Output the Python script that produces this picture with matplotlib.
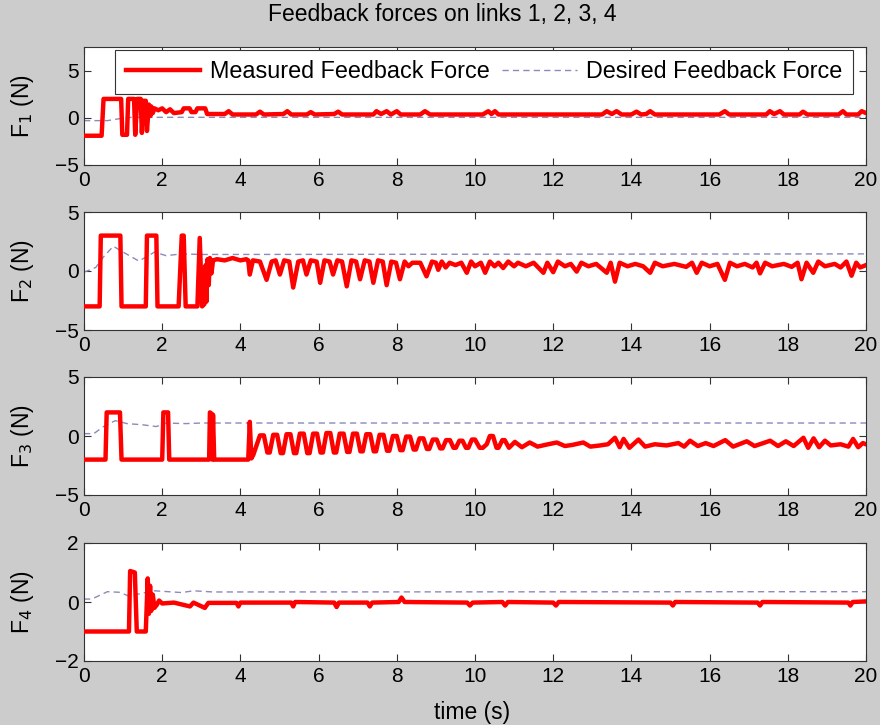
import numpy as np
import matplotlib
matplotlib.use("Agg")
import matplotlib.pyplot as plt

plt.rcParams['font.family'] = ['Liberation Sans', 'DejaVu Sans']

# measured feedback force, (time, force) breakpoints
f1_meas = [(0.0, -1.9), (0.45, -1.9), (0.5, 2.0), (0.95, 2.0), (0.98, -1.8), (1.1, -1.8), (1.13, 2.0),
           (1.28, 2.0), (1.31, -1.8), (1.36, 2.0), (1.45, 2.0), (1.48, -1.6), (1.52, 1.8), (1.58, 1.8),
           (1.61, -1.4), (1.66, 1.4), (1.7, 0.2), (1.72, 1.2), (1.76, 0.5), (1.8, 1.0), (1.9, 0.8),
           (2.0, 1.0), (2.1, 0.6), (2.2, 0.9), (2.3, 0.5), (2.5, 0.6), (2.55, 1.0), (2.7, 1.0),
           (2.75, 0.6), (2.85, 0.6), (2.9, 1.0), (3.1, 1.0), (3.15, 0.4), (3.6, 0.4), (3.7, 0.7),
           (3.8, 0.35), (4.4, 0.35), (4.5, 0.65), (4.6, 0.35), (5.1, 0.4), (5.2, 0.7), (5.3, 0.35),
           (5.7, 0.35), (5.8, 0.6), (5.9, 0.35), (6.4, 0.4), (6.5, 0.65), (6.6, 0.35), (7.4, 0.35),
           (7.48, 0.7), (7.6, 0.4), (7.74, 0.7), (7.85, 0.35), (8.0, 0.7), (8.1, 0.35), (8.6, 0.35),
           (8.72, 0.7), (8.85, 0.35), (10.2, 0.35), (10.34, 0.7), (10.42, 0.4), (10.51, 0.7),
           (10.6, 0.35), (13.25, 0.35), (13.37, 0.7), (13.5, 0.4), (13.62, 0.7), (13.75, 0.35),
           (14.0, 0.35), (14.13, 0.65), (14.25, 0.35), (14.38, 0.4), (14.48, 0.7), (14.6, 0.35),
           (16.25, 0.35), (16.39, 0.7), (16.5, 0.35), (17.45, 0.35), (17.54, 0.7), (17.65, 0.4),
           (17.8, 0.7), (17.9, 0.35), (18.3, 0.35), (18.39, 0.65), (18.5, 0.35), (19.3, 0.35),
           (19.41, 0.7), (19.5, 0.35), (19.8, 0.35), (19.89, 0.7), (20.0, 0.5)]

f2_meas = [(0.0, -3.0), (0.4, -3.0), (0.43, 3.0), (0.93, 3.0), (0.96, -3.0), (1.58, -3.0), (1.61, 3.0),
           (1.85, 3.0), (1.88, -3.0), (2.42, -3.0), (2.5, 3.0), (2.55, 3.0), (2.6, -3.0), (2.9, -3.0),
           (2.96, 2.8), (3.02, -3.0), (3.08, -2.8), (3.11, 0.5), (3.13, -2.6), (3.16, 1.0), (3.19, -1.2),
           (3.22, 1.1), (3.26, -0.2), (3.3, 0.9), (3.4, 1.0), (3.6, 0.9), (3.8, 1.1), (4.0, 0.9),
           (4.15, 1.0), (4.2, 0.9), (4.24, -0.3), (4.32, 0.9), (4.5, 0.8), (4.67, -0.75), (4.8, 0.8),
           (4.9, 0.9), (5.01, -0.3), (5.12, 0.9), (5.25, 0.8), (5.35, -1.4), (5.48, 0.8), (5.6, 0.9),
           (5.69, -0.3), (5.8, 0.9), (5.95, 0.8), (6.04, -1.0), (6.15, 0.9), (6.28, 0.8), (6.37, -0.3),
           (6.48, 0.9), (6.6, 0.8), (6.72, -1.3), (6.84, 0.9), (6.96, 0.8), (7.06, -0.7), (7.18, 0.9),
           (7.3, 0.8), (7.4, -1.0), (7.52, 0.9), (7.64, 0.8), (7.74, -1.2), (7.86, 0.8), (7.98, 0.7),
           (8.08, -0.7), (8.2, 0.8), (8.3, 0.4), (8.4, 0.7), (8.6, 0.7), (8.76, -0.45), (8.9, 0.8),
           (9.0, 0.7), (9.06, 0.1), (9.15, 0.8), (9.25, 0.3), (9.35, 0.7), (9.5, 0.5), (9.65, 0.7),
           (9.79, -0.15), (9.9, 0.8), (10.0, 0.4), (10.15, 0.7), (10.26, -0.15), (10.38, 0.8),
           (10.5, 0.4), (10.6, 0.7), (10.72, 0.25), (10.85, 0.8), (11.0, 0.4), (11.1, 0.7),
           (11.3, 0.4), (11.5, 0.7), (11.75, -0.15), (11.85, 0.7), (12.0, -0.1), (12.12, 0.8),
           (12.3, 0.4), (12.45, 0.6), (12.6, -0.05), (12.72, 0.7), (12.9, 0.4), (13.1, 0.6),
           (13.37, -0.15), (13.47, 0.7), (13.58, -0.9), (13.7, 0.7), (13.9, 0.4), (14.1, 0.6),
           (14.3, 0.4), (14.48, -0.15), (14.6, 0.7), (14.8, 0.4), (15.1, 0.6), (15.4, 0.35),
           (15.55, 0.7), (15.67, -0.15), (15.8, 0.7), (16.0, 0.4), (16.2, 0.6), (16.39, -0.75),
           (16.52, 0.7), (16.7, 0.4), (16.9, 0.6), (17.1, 0.3), (17.2, 0.7), (17.29, -0.2),
           (17.42, 0.7), (17.6, 0.4), (17.9, 0.6), (18.1, 0.35), (18.25, 0.7), (18.35, -0.7),
           (18.48, 0.7), (18.65, -0.15), (18.78, 0.8), (18.95, 0.4), (19.2, 0.6), (19.35, 0.3),
           (19.5, 0.8), (19.63, -0.4), (19.75, 0.7), (19.85, 0.3), (20.0, 0.5)]

f3_meas = [(0.0, -2.0), (0.55, -2.0), (0.58, 2.0), (0.92, 2.0), (0.96, -2.0), (2.0, -2.0), (2.03, 2.0),
           (2.15, 2.0), (2.18, -2.0), (3.2, -2.0), (3.22, 2.0), (3.26, 1.9), (3.28, -2.0), (3.3, 1.8),
           (3.33, -2.0), (4.2, -2.0), (4.24, 1.2), (4.28, -1.9), (4.33, -1.6),
           (4.5, 0.05), (4.6, 0.05), (4.69, -1.4), (4.75, -1.4), (4.84, 0.1), (4.94, 0.1),
           (5.03, -1.45), (5.09, -1.45), (5.18, 0.15), (5.28, 0.15), (5.37, -1.45), (5.43, -1.45),
           (5.52, 0.2), (5.62, 0.2), (5.71, -1.45), (5.77, -1.45), (5.86, 0.2), (5.96, 0.2),
           (6.05, -1.4), (6.11, -1.4), (6.2, 0.25), (6.3, 0.25), (6.39, -1.4), (6.45, -1.4),
           (6.54, 0.2), (6.64, 0.2), (6.73, -1.35), (6.79, -1.35), (6.88, 0.2), (6.98, 0.2),
           (7.07, -1.3), (7.13, -1.3), (7.22, 0.15), (7.32, 0.15), (7.41, -1.3), (7.47, -1.3),
           (7.56, 0.1), (7.66, 0.1), (7.75, -1.25), (7.81, -1.25), (7.9, 0.0), (8.0, 0.0),
           (8.09, -1.2), (8.15, -1.2), (8.24, -0.05), (8.34, -0.05), (8.43, -1.15), (8.49, -1.15),
           (8.58, -0.2), (8.68, -0.2), (8.77, -1.1), (8.83, -1.1), (8.92, -0.3), (9.02, -0.3),
           (9.11, -1.05), (9.17, -1.05), (9.26, -0.35), (9.36, -0.35), (9.45, -1.0), (9.51, -1.0),
           (9.6, -0.4), (9.68, -0.4), (9.77, -1.0), (9.83, -1.0), (9.92, -0.3), (10.0, -0.3),
           (10.12, -1.0), (10.2, -1.0), (10.3, -0.7), (10.38, 0.0), (10.46, 0.0), (10.55, -1.0),
           (10.6, -1.0), (10.7, -0.35), (10.76, -0.35), (10.87, -1.0), (11.02, -0.5), (11.2, -0.95),
           (11.4, -0.55), (11.6, -0.9), (11.8, -0.75), (12.09, -0.55), (12.3, -0.85), (12.5, -0.75),
           (12.77, -0.55), (12.95, -0.9), (13.2, -0.8), (13.4, -0.7), (13.58, -0.15), (13.7, -0.95),
           (13.8, -0.25), (13.95, -1.0), (14.18, -0.3), (14.35, -0.9), (14.6, -0.7), (14.9, -0.8),
           (15.2, -0.6), (15.35, -0.9), (15.5, -0.4), (15.7, -0.85), (15.9, -0.6), (16.1, -0.85),
           (16.4, -0.35), (16.6, -0.9), (16.95, -0.45), (17.15, -0.85), (17.55, -0.4), (17.75, -0.85),
           (17.95, -0.45), (18.15, -0.85), (18.4, -0.15), (18.52, -1.0), (18.66, -0.2), (18.8, -0.95),
           (18.95, -0.4), (19.1, -0.8), (19.35, -0.7), (19.55, -0.9), (19.67, -0.25), (19.8, -0.95),
           (19.92, -0.6), (20.0, -0.7)]

f4_meas = [(0.0, -1.0), (1.15, -1.0), (1.18, 1.05), (1.3, 1.0), (1.35, -1.0), (1.58, -1.0), (1.63, 0.8),
           (1.66, -0.4), (1.69, 0.55), (1.72, -0.3), (1.76, 0.25), (1.8, -0.2), (1.86, -0.1),
           (1.92, 0.05), (2.0, -0.05), (2.3, -0.02), (2.71, -0.15), (2.8, -0.02), (3.09, -0.2),
           (3.18, -0.03), (3.9, -0.03), (3.95, -0.15), (4.0, -0.02), (5.3, -0.02), (5.35, -0.15),
           (5.4, 0.0), (6.4, -0.02), (6.46, -0.17), (6.52, -0.02), (7.25, -0.02), (7.31, -0.15),
           (7.37, -0.02), (8.05, 0.0), (8.12, 0.15), (8.2, 0.0), (9.8, -0.02), (9.87, -0.12),
           (9.94, -0.02), (10.7, 0.0), (10.77, -0.12), (10.84, 0.0), (12.0, -0.02), (12.07, -0.12),
           (12.14, 0.0), (15.0, -0.02), (15.06, -0.12), (15.12, 0.0), (17.23, -0.02), (17.29, -0.12),
           (17.35, 0.0), (19.55, -0.02), (19.6, -0.12), (19.66, 0.0), (20.0, 0.02)]

# desired feedback force
f1_des = [(0.0, -0.3), (0.6, -0.3), (0.9, -0.1), (1.2, 0.05), (2.0, 0.05), (20.0, 0.05)]
f2_des = [(0.0, -0.1), (0.3, 0.3), (0.5, 1.2), (0.75, 2.1), (1.0, 1.6), (1.4, 0.85), (1.6, 1.2),
          (1.8, 1.6), (2.1, 1.3), (2.5, 1.45), (3.0, 1.4), (20.0, 1.45)]
f3_des = [(0.0, 0.2), (0.25, 0.2), (0.5, 0.8), (0.8, 1.3), (1.1, 1.05), (1.5, 0.95), (1.85, 0.8),
          (2.1, 1.1), (2.6, 1.05), (3.0, 1.1), (20.0, 1.1)]
f4_des = [(0.0, 0.1), (0.2, 0.1), (0.6, 0.35), (0.9, 0.33), (1.15, 0.2), (1.5, 0.3), (1.8, 0.38),
          (2.5, 0.32), (2.8, 0.38), (3.3, 0.34), (20.0, 0.35)]

ylims = [(-5, 7.5), (-5, 5), (-5, 5), (-2, 2)]
yticks = [[-5, 0, 5], [-5, 0, 5], [-5, 0, 5], [-2, 0, 2]]
xticks = list(range(0, 21, 2))

fig = plt.figure(figsize=(8.8, 7.25), dpi=100)
fig.patch.set_facecolor('#cccccc')

W, H = 880.0, 725.0
left, right = 84, 866
tops = [47, 212, 377, 543]
bots = [165, 330, 495, 661]

meas = [f1_meas, f2_meas, f3_meas, f4_meas]
des = [f1_des, f2_des, f3_des, f4_des]

for i in range(4):
    ax = fig.add_axes([left / W, 1 - bots[i] / H, (right - left) / W, (bots[i] - tops[i]) / H])
    m = np.array(meas[i]).T
    d = np.array(des[i]).T
    l1, = ax.plot(m[0], m[1], color='#ff0000', lw=3.2, solid_joinstyle='round',
                  label='Measured Feedback Force', zorder=3)
    l2, = ax.plot(d[0], d[1], color='#8a8abb', lw=1.0, dashes=(4.5, 3),
                  label='Desired Feedback Force', zorder=2)
    ax.set_xlim(0, 20)
    ax.set_ylim(*ylims[i])
    ax.set_xticks(xticks)
    ax.set_yticks(yticks[i])
    ax.tick_params(direction='in', top=True, right=True, length=5, width=0.8,
                   labelsize=15, color='#333333', pad=4)
    for s in ax.spines.values():
        s.set_color('#333333')
        s.set_linewidth(0.8)
    ax.set_ylabel('F$_{%d}$ (N)' % (i + 1), fontsize=16.5)
    ax.yaxis.set_label_coords(-0.061, 0.5)
    if i == 0:
        leg = ax.legend(handles=[l1, l2], ncol=2, loc='upper left',
                        bbox_to_anchor=((115 - left) / (right - left), 1 - 3 / 118.0),
                        borderaxespad=0, fontsize=16.8, handlelength=3.2, handletextpad=0.4,
                        columnspacing=0.55, borderpad=0.45, fancybox=False, framealpha=1,
                        edgecolor='#333333')
        leg.get_frame().set_linewidth(0.8)

fig.text(442 / W, 1 - 15 / H, 'Feedback forces on links 1, 2, 3, 4', ha='center', va='center',
         fontsize=16.5)
fig.text(472 / W, 1 - 712 / H, 'time (s)', ha='center', va='center', fontsize=16.5)

fig.savefig('out.png', dpi=100, facecolor=fig.get_facecolor())
